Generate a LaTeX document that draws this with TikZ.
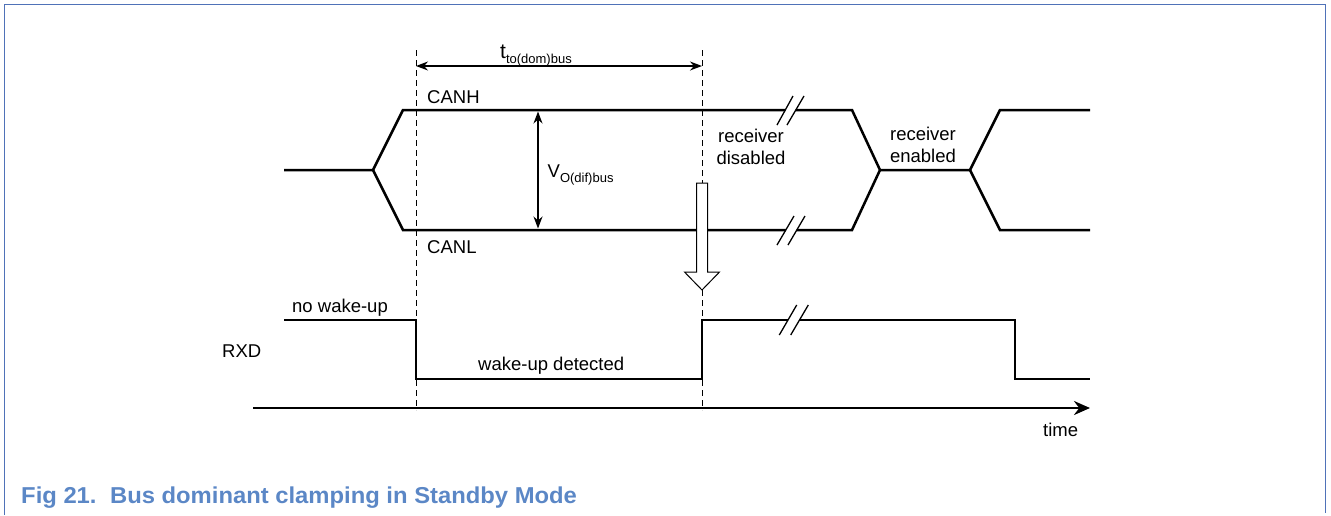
\documentclass[tikz,border=0pt]{standalone}
\usepackage{fontspec}
\setmainfont{Liberation Sans}
\usetikzlibrary{arrows.meta}
\definecolor{framecol}{HTML}{4F72B8}
\definecolor{capcol}{HTML}{5B87C6}
\begin{document}
\begin{tikzpicture}[x=1pt,y=-1pt,
  sig/.style={line width=2.5pt, line join=miter},
  guide/.style={line width=0.9pt, dash pattern=on 6pt off 4pt},
  dimarrow/.style={line width=1.3pt, {Stealth[length=12pt,width=9pt]}-{Stealth[length=12pt,width=9pt]}},
  lbl/.style={inner sep=0pt, font=\fontsize{18.5}{22}\selectfont, anchor=base west},
  brk/.style={line width=1.3pt},
  hollow/.style={draw, fill=white, line width=1pt, line join=miter}]
\useasboundingbox (0,0) rectangle (1331,515);
% frame
\draw[framecol, line width=1.5pt] (4.5,515) -- (4.5,4.5) -- (1325.5,4.5) -- (1325.5,513);

% guides
\coordinate (g1t) at (416,50);
\coordinate (g1b) at (416,410);
\coordinate (g2t) at (702,50);
\coordinate (g2b) at (702,410);
\draw[guide] (g1t) -- (g1b);
\draw[guide] (g2t) -- (g2b);

% dimension arrow
\coordinate (d1) at (416,66);
\coordinate (d2) at (702,66);
\draw[dimarrow] (d1) -- (d2);
\node[lbl] (tlabel) at (500,58) {{\fontsize{21}{22}\selectfont t}\raisebox{-5pt}{\fontsize{13}{14}\selectfont to(dom)bus}};

% CAN bus
\draw[sig] (284,170) -- (373,170) -- (403,110) -- (785.3,110);
\draw[sig] (795.8,110) -- (852,110) -- (880,170) -- (970,170) -- (1000,110) -- (1090,110);
\draw[sig] (373,170) -- (403,230) -- (785.8,230);
\draw[sig] (796.8,230) -- (852,230) -- (880,170);
\draw[sig] (970,170) -- (1000,230) -- (1090,230);
% breaks
\draw[brk] (777,125) -- (793,96);
\draw[brk] (787,125) -- (804,96);
\draw[brk] (777,245) -- (794,216);
\draw[brk] (788,245) -- (805,216);

\node[lbl] (canh) at (427,103) {CANH};
\node[lbl] (canl) at (427,253) {CANL};

% V arrow
\coordinate (v1) at (538,111.5);
\coordinate (v2) at (538,228.5);
\draw[dimarrow] (v1) -- (v2);
\node[lbl] (vlabel) at (547.5,177) {V\raisebox{-5pt}{\fontsize{13}{14}\selectfont O(dif)bus}};

\node[inner sep=0pt, font=\fontsize{18.5}{22}\selectfont, align=center] (rdis) at (751,147) {receiver\\disabled};
\node[inner sep=0pt, font=\fontsize{18.5}{22}\selectfont, align=center] (ren) at (923,145) {receiver\\enabled};

% hollow arrow
\draw[hollow] (696.5,183) -- (707.5,183) -- (707.5,272) -- (719.5,272) -- (702,290) -- (684.5,272) -- (696.5,272) -- cycle;

% RXD
\node[lbl] (rxd) at (222,357) {RXD};
\draw[sig] (284,320) -- (416,320) -- (416,379) -- (702,379) -- (702,320) -- (788,320);
\draw[sig] (799.5,320) -- (1015,320) -- (1015,379) -- (1090,379);
\draw[brk] (779.3,335) -- (796.7,305);
\draw[brk] (790.7,335) -- (808.3,305);
\node[lbl] (nowake) at (292,312) {no wake-up};
\node[lbl] (wakedet) at (478,370) {wake-up detected};

% time axis
\coordinate (ta) at (253,408);
\coordinate (tb) at (1090,408);
\draw[line width=2.5pt, -{Stealth[length=16pt,width=14pt]}] (ta) -- (tb);
\node[lbl] (time) at (1043,436) {time};

% caption
\node[inner sep=0pt, anchor=base west, text=capcol, font=\fontsize{23}{27}\selectfont\bfseries, xscale=1.035] (caption) at (21,503) {Fig 21.\hspace{13pt}Bus dominant clamping in Standby Mode};
\end{tikzpicture}
\end{document}
